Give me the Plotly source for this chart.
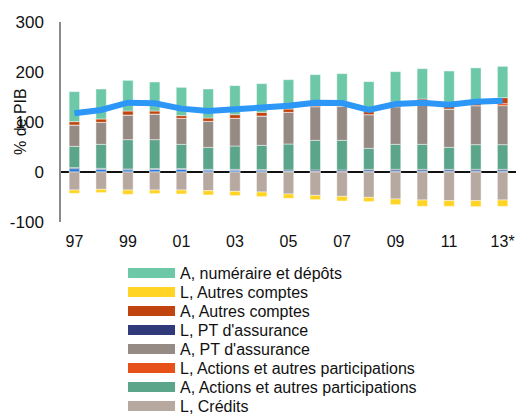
import plotly.graph_objects as go

years = ["97", "98", "99", "00", "01", "02", "03", "04", "05", "06", "07", "08", "09", "10", "11", "12", "13*"]
tick_years = ["97", "99", "01", "03", "05", "07", "09", "11", "13*"]
y_tick_vals = [-100, 0, 100, 200, 300]
y_tick_text = ["-100", "0", "100", "200", "300"]

# Assets (positive side), stacked from zero upwards
a_titres = [6.7, 5.3, 4.5, 5.2, 5.2, 3.8, 3.3, 2.7, 2.0, 1.5, 1.5, 2.3, 2.3, 2.3, 2.3, 2.3, 2.3]
l_pt_assurance = [2.0, 2.0, 1.5, 1.5, 1.5, 1.5, 2.0, 2.0, 2.0, 2.5, 2.5, 3.0, 3.0, 3.0, 3.0, 3.0, 3.0]
a_actions = [42.6, 48.0, 58.7, 58.0, 48.6, 44.0, 46.7, 48.6, 52.0, 59.3, 59.3, 42.0, 50.0, 50.0, 44.0, 49.4, 49.4]
a_pt_assurance = [42.7, 44.0, 49.3, 51.3, 52.0, 52.0, 55.3, 58.7, 63.3, 67.4, 68.7, 67.4, 75.4, 78.7, 76.7, 78.0, 78.0]
l_actions = [0, 0, 0, 0, 0, 0, 0, 0, 0, 0, 0, 0, 0, 0, 0, 0, 4.0]
a_autres_comptes = [6.7, 6.7, 8.0, 6.0, 5.4, 6.7, 7.4, 7.3, 6.7, 5.3, 5.3, 6.0, 9.3, 12.0, 9.0, 4.6, 12.0]
a_numeraire = [60.0, 60.0, 61.3, 58.0, 56.6, 58.0, 58.0, 57.4, 58.7, 58.7, 59.4, 60.0, 60.7, 60.7, 67.0, 71.0, 62.6]

# Liabilities (negative side)
l_credits = [-36.0, -34.7, -36.0, -36.0, -36.0, -37.3, -38.7, -40.0, -44.0, -46.7, -48.7, -50.7, -54.0, -56.0, -57.3, -57.3, -56.0]
l_autres_comptes = [-6.7, -6.6, -8.7, -7.3, -8.0, -8.7, -8.6, -9.3, -8.7, -8.6, -9.3, -8.6, -11.3, -12.7, -11.4, -12.0, -12.7]

# Net position (line)
position_nette = [117.3, 124.0, 138.7, 137.3, 126.7, 122.0, 125.3, 128.7, 132.7, 138.7, 138.0, 124.0, 136.0, 138.7, 134.7, 140.7, 142.7]

C_NUM = "#6DC8A8"
C_LAC = "#FFD424"
C_AAC = "#C1440E"
C_LPT = "#303A7A"
C_APT = "#968A84"
C_LACT = "#E8501A"
C_AACT = "#5BA58A"
C_LCRED = "#B7A8A0"
C_ATIT = "#2B7BD6"
C_LINE = "#2D97F8"

FONT = "Liberation Sans, Arial, sans-serif"

fig = go.Figure()

bar_series = [
    ("A, Titres de créance", a_titres, C_ATIT),
    ("L, PT d'assurance", l_pt_assurance, C_LPT),
    ("A, Actions et autres participations", a_actions, C_AACT),
    ("A, PT d'assurance", a_pt_assurance, C_APT),
    ("L, Actions et autres participations", l_actions, C_LACT),
    ("A, Autres comptes", a_autres_comptes, C_AAC),
    ("A, numéraire et dépôts", a_numeraire, C_NUM),
    ("L, Crédits", l_credits, C_LCRED),
    ("L, Autres comptes", l_autres_comptes, C_LAC),
]
for name, vals, col in bar_series:
    fig.add_trace(go.Bar(
        x=years, y=vals, name=name, legendgroup=name,
        marker=dict(color=col, line=dict(color="rgba(255,255,255,0.45)", width=1)),
        showlegend=False,
    ))

fig.add_trace(go.Scatter(
    x=years, y=position_nette, mode="lines", name="Position nette",
    line=dict(color=C_LINE, width=6), showlegend=False,
))

# Legend entries (wide colour swatches), one small legend per entry for tight spacing
legend_order = [
    ("A, numéraire et dépôts", C_NUM),
    ("L, Autres comptes", C_LAC),
    ("A, Autres comptes", C_AAC),
    ("L, PT d'assurance", C_LPT),
    ("A, PT d'assurance", C_APT),
    ("L, Actions et autres participations", C_LACT),
    ("A, Actions et autres participations", C_AACT),
    ("L, Crédits", C_LCRED),
]
legend_layouts = {}
for i, (name, col) in enumerate(legend_order):
    lid = "legend" if i == 0 else "legend%d" % (i + 1)
    fig.add_trace(go.Scatter(
        x=[None], y=[None], mode="lines", name=name, legendgroup=name,
        line=dict(color=col, width=10), showlegend=True, legend=lid,
    ))
    y_win = 273 + 19 * i
    legend_layouts[lid] = dict(
        x=0.1363, xanchor="left", y=(222 - y_win) / 200.0, yanchor="middle",
        orientation="v", font=dict(family=FONT, size=16, color="#111111"),
        bgcolor="rgba(0,0,0,0)", itemclick=False, itemdoubleclick=False,
        borderwidth=0, itemwidth=47,
    )

fig.update_layout(
    width=516, height=415,
    margin=dict(l=61, r=0, t=22, b=193, autoexpand=False),
    paper_bgcolor="white", plot_bgcolor="white",
    barmode="relative", bargap=0.61,
    font=dict(family=FONT, size=16, color="#111111"),
    xaxis=dict(
        type="category", tickmode="array", tickvals=tick_years, ticktext=tick_years,
        showline=False, showgrid=False, zeroline=False, ticks="",
        tickfont=dict(family=FONT, size=16, color="#111111"),
        ticklabelstandoff=8, ticklabeloverflow="allow",
    ),
    yaxis=dict(
        range=[-100, 300], tickmode="array", tickvals=y_tick_vals, ticktext=y_tick_text,
        showline=True, linecolor="#8a8a8a", linewidth=1.5,
        showgrid=False, zeroline=True, zerolinecolor="#111111", zerolinewidth=1.5,
        ticks="", tickfont=dict(family=FONT, size=17, color="#111111"),
        ticklabelstandoff=12,
    ),
    showlegend=True,
    **legend_layouts,
)

fig.add_annotation(
    text="% de PIB", xref="paper", yref="paper", x=0, y=0.5,
    xanchor="center", yanchor="middle", xshift=-41, textangle=-90,
    showarrow=False, font=dict(family=FONT, size=16, color="#111111"),
)

fig.write_html(
    "out.html",
    config={"displayModeBar": False},
    post_script="document.body.style.margin='0px';document.body.style.overflow='hidden';",
)
